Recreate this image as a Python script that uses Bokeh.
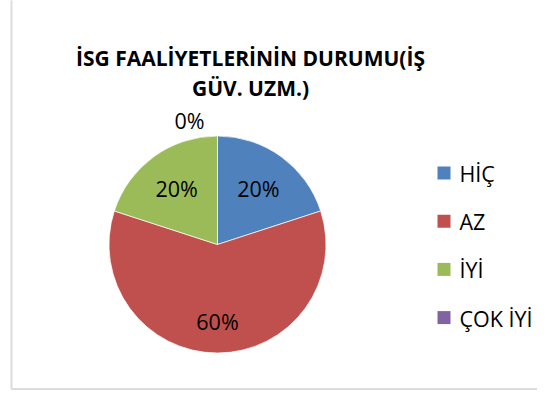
import numpy as np
from bokeh.plotting import figure
from bokeh.models import Range1d, BoxAnnotation, ColumnDataSource
from bokeh.core.properties import value
from bokeh.embed import file_html
from bokeh.resources import INLINE

# ---- data ----
categories = ["HİÇ", "AZ", "İYİ", "ÇOK İYİ"]
percent = [20, 60, 20, 0]
colors = ["#4F81BD", "#C0504D", "#9BBB59", "#8064A2"]
title_lines = ["İSG FAALİYETLERİNİN DURUMU(İŞ", "GÜV. UZM.)"]

# ---- layout ----
W, H = 537, 390
p = figure(width=W, height=H, output_backend="svg", toolbar_location=None,
           x_range=Range1d(0, W), y_range=Range1d(0, H), min_border=0)
p.axis.visible = False
p.grid.visible = False
p.outline_line_color = None
p.background_fill_color = "white"
p.border_fill_color = "white"

TXT_SHIFT = 8  # correction of rendered baseline


def X(px):
    return px


def Y(py):
    return H - py


FONT = value("Open Sans")

# chart-area border
p.add_layout(BoxAnnotation(left=X(11), right=2000, bottom=1.5, top=2000,
                           fill_alpha=0, line_color="#8c8c8c", line_width=2))

# pie
cx, cy, R = X(217), Y(244), 108.5
vals = np.array(percent, dtype=float)
frac = vals / vals.sum()
cum = np.concatenate([[0.0], np.cumsum(frac)])
start = np.pi / 2 - 2 * np.pi * cum[:-1]
end = np.pi / 2 - 2 * np.pi * cum[1:]
mask = frac > 0
src = ColumnDataSource(dict(start=start[mask], end=end[mask],
                            color=[c for c, m in zip(colors, mask) if m]))
p.wedge(x=cx, y=cy, radius=R, start_angle="start", end_angle="end",
        direction="clock", fill_color="color", line_color="white",
        line_width=0.7, source=src)

# data labels
mid = (start + end) / 2
r_fac = np.array([0.64, 0.71, 0.64, 1.14])
dx = np.where(frac > 0, 0.0, -28.0)
lx = cx + r_fac * R * np.cos(mid) + dx
ly = cy + r_fac * R * np.sin(mid) - 8 + TXT_SHIFT
p.text(x=lx, y=ly, text=[f"{v}%" for v in percent], text_font=FONT,
       text_font_size="21.5px", text_align="center",
       text_baseline="alphabetic", text_color="black")

# title
p.text(x=[X(250)] * 2, y=[Y(65) + TXT_SHIFT, Y(95) + TXT_SHIFT],
       text=title_lines, text_font=FONT,
       text_font_style="bold", text_font_size="21px", text_align="center",
       text_baseline="alphabetic", text_color="black")

# legend
idx = np.arange(len(categories))
sq_y = Y(172.5) - 48.2 * idx
p.rect(x=[X(443.5)] * len(categories), y=sq_y, width=13, height=13,
       fill_color=colors, line_color=None)
p.text(x=[X(459)] * len(categories), y=sq_y - 8.5 + TXT_SHIFT,
       text=categories,
       text_font=FONT, text_font_size="21.5px", text_align="left",
       text_baseline="alphabetic", text_color="black")

open("out.html", "w").write(file_html(p, INLINE))
